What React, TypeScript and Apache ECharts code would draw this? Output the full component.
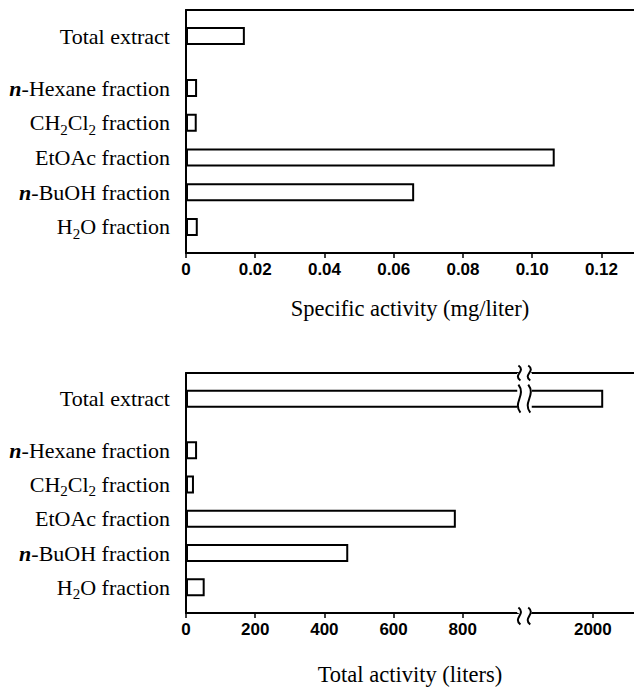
import React, { useEffect, useRef } from "react";
import * as echarts from "echarts";

// ---------- data ----------
const categories = [
  "Total extract",
  "n-Hexane fraction",
  "CH2Cl2 fraction",
  "EtOAc fraction",
  "n-BuOH fraction",
  "H2O fraction",
];
const specificActivity = [0.017, 0.0032, 0.0031, 0.1065, 0.0659, 0.0034];
const totalActivity = [2030, 32, 23, 780, 469, 54];

const specificTicks = [0, 0.02, 0.04, 0.06, 0.08, 0.1, 0.12];
const specificTickLabels = ["0", "0.02", "0.04", "0.06", "0.08", "0.10", "0.12"];
const totalTicks = [0, 200, 400, 600, 800, 2000];
const totalTickLabels = ["0", "200", "400", "600", "800", "2000"];

const specificTitle = "Specific activity (mg/liter)";
const totalTitle = "Total activity (liters)";

// axis break of the lower chart
const totalBreakStart = 958;
const totalBreakEnd = 1822;
const totalBreakGap = 40;

// ---------- layout ----------
const W = 634;
const H = 687;
const GRID_TOP = { left: 186, top: 10, width: 448, height: 243 };
const GRID_BOTTOM = { left: 186, top: 373, width: 448, height: 243 };
const SERIF = "'Liberation Serif', 'Times New Roman', serif";
const SANS = "'Liberation Sans', Arial, sans-serif";

// slots: spacer, Total, spacer, spacer, then each fraction followed by a spacer
function buildSlots(): string[] {
  const s: string[] = ["_gap0", categories[0], "_gap1", "_gap2"];
  for (let i = 1; i < categories.length; i++) {
    s.push(categories[i]);
    s.push("_gap" + (i + 2));
  }
  return s;
}
const slots = buildSlots();

function slotData(values: number[]) {
  return slots.map((name) => {
    const i = categories.indexOf(name);
    return i >= 0 ? values[i] : "-";
  });
}

function richLabel(name: string): string {
  if (name.startsWith("_gap")) return "";
  let out = "";
  let rest = name;
  if (rest.startsWith("n-")) {
    out += "{it|n}";
    rest = rest.slice(1);
  }
  rest.split(/(\d+)/).forEach((p) => {
    if (!p) return;
    out += /^\d+$/.test(p) ? `{sub|${p}}` : `{n|${p}}`;
  });
  return out;
}

const labelRich = {
  n: { fontFamily: SERIF, fontSize: 22, color: "#000", lineHeight: 26, verticalAlign: "middle" },
  it: { fontFamily: SERIF, fontSize: 22, color: "#000", lineHeight: 26, fontStyle: "italic", fontWeight: "bold", verticalAlign: "middle" },
  sub: { fontFamily: SERIF, fontSize: 15, color: "#000", lineHeight: 29, verticalAlign: "bottom" },
};

function tickFormatter(ticks: number[], labels: string[]) {
  return (v: number) => {
    const i = ticks.findIndex((t) => Math.abs(t - v) < 1e-9);
    return i >= 0 ? labels[i] : "";
  };
}

const blackLine = { show: true, lineStyle: { color: "#000", width: 2 } };

function yAxisFor(gridIndex: number) {
  return {
    gridIndex,
    type: "category",
    data: slots,
    inverse: true,
    axisLine: blackLine,
    axisTick: { show: false },
    axisLabel: { interval: 0, margin: 16, formatter: richLabel, rich: labelRich },
    splitLine: { show: false },
  };
}

const breakArea = {
  show: true,
  itemStyle: { color: "#fff", borderWidth: 0, opacity: 1 },
  zigzagAmplitude: 0,
  expandOnClick: false,
};

const tickLabelStyle = {
  fontFamily: SANS,
  fontWeight: "bold",
  fontSize: 17,
  color: "#000",
  margin: 8,
};

const titleStyle = { fontFamily: SERIF, fontSize: 22.5, color: "#000" };

export default function App() {
  const ref = useRef<HTMLDivElement>(null);
  useEffect(() => {
    if (!ref.current) return;
    const chart = echarts.init(ref.current, null, { renderer: "svg" });
    const option: any = {
      animation: false,
      backgroundColor: "#fff",
      grid: [GRID_TOP, GRID_BOTTOM],
      xAxis: [
        {
          gridIndex: 0,
          type: "value",
          position: "bottom",
          min: 0,
          max: 0.1294,
          axisLine: blackLine,
          axisTick: { show: true, length: 5, lineStyle: { color: "#000", width: 1.5 }, customValues: specificTicks },
          axisLabel: {
            customValues: specificTicks,
            formatter: tickFormatter(specificTicks, specificTickLabels),
            ...tickLabelStyle,
          },
          splitLine: { show: false },
          name: specificTitle,
          nameLocation: "middle",
          nameGap: 44,
          nameTextStyle: titleStyle,
        },
        {
          gridIndex: 0,
          type: "value",
          position: "top",
          min: 0,
          max: 0.1294,
          axisLine: blackLine,
          axisTick: { show: false },
          axisLabel: { show: false },
          splitLine: { show: false },
        },
        {
          gridIndex: 1,
          type: "value",
          position: "bottom",
          min: 0,
          max: 2119,
          breaks: [{ start: totalBreakStart, end: totalBreakEnd, gap: totalBreakGap }],
          breakArea,
          axisLine: blackLine,
          axisTick: { show: true, length: 5, lineStyle: { color: "#000", width: 1.5 }, customValues: totalTicks },
          axisLabel: {
            customValues: totalTicks,
            formatter: tickFormatter(totalTicks, totalTickLabels),
            ...tickLabelStyle,
          },
          splitLine: { show: false },
          name: totalTitle,
          nameLocation: "middle",
          nameGap: 50,
          nameTextStyle: titleStyle,
        },
        {
          gridIndex: 1,
          type: "value",
          position: "top",
          min: 0,
          max: 2119,
          breaks: [{ start: totalBreakStart, end: totalBreakEnd, gap: totalBreakGap }],
          breakArea,
          axisLine: blackLine,
          axisTick: { show: false },
          axisLabel: { show: false },
          splitLine: { show: false },
        },
      ],
      yAxis: [yAxisFor(0), yAxisFor(1)],
      series: [
        {
          type: "bar",
          xAxisIndex: 0,
          yAxisIndex: 0,
          data: slotData(specificActivity),
          barWidth: 18,
          itemStyle: { color: "#fff", borderColor: "#000", borderWidth: 2 },
          silent: true,
        },
        {
          type: "bar",
          xAxisIndex: 2,
          yAxisIndex: 1,
          data: slotData(totalActivity),
          barWidth: 18,
          itemStyle: { color: "#fff", borderColor: "#000", borderWidth: 2 },
          silent: true,
        },
      ],
    };
    chart.setOption(option);

    // wavy break marks
    const xs = chart.convertToPixel({ xAxisIndex: 2 } as any, totalBreakStart) as number;
    const xe = chart.convertToPixel({ xAxisIndex: 2 } as any, totalBreakEnd) as number;
    const yBar = chart.convertToPixel({ yAxisIndex: 1 } as any, categories[0]) as number;
    const yTop = GRID_BOTTOM.top;
    const yBot = GRID_BOTTOM.top + GRID_BOTTOM.height;
    const marks: any[] = [];
    const wave = (x: number, yc: number, h: number) => ({
      type: "bezierCurve",
      z: 100,
      silent: true,
      shape: {
        x1: x - 1, y1: yc - h / 2,
        cpx1: x + 7, cpy1: yc - h / 8,
        cpx2: x - 7, cpy2: yc + h / 8,
        x2: x + 1, y2: yc + h / 2,
      },
      style: { stroke: "#000", lineWidth: 2, fill: null },
    });
    if (isFinite(xs) && isFinite(xe)) {
      [xs + 2, xe - 2].forEach((x) => {
        marks.push(wave(x, yTop, 15));
        marks.push(wave(x, yBar, 28));
        marks.push(wave(x, yBot, 17));
      });
    }
    chart.setOption({ graphic: marks });
    return () => chart.dispose();
  }, []);
  return (
    <div
      ref={ref}
      style={{ position: "absolute", left: 0, top: 0, width: W, height: H, background: "#fff" }}
    />
  );
}
